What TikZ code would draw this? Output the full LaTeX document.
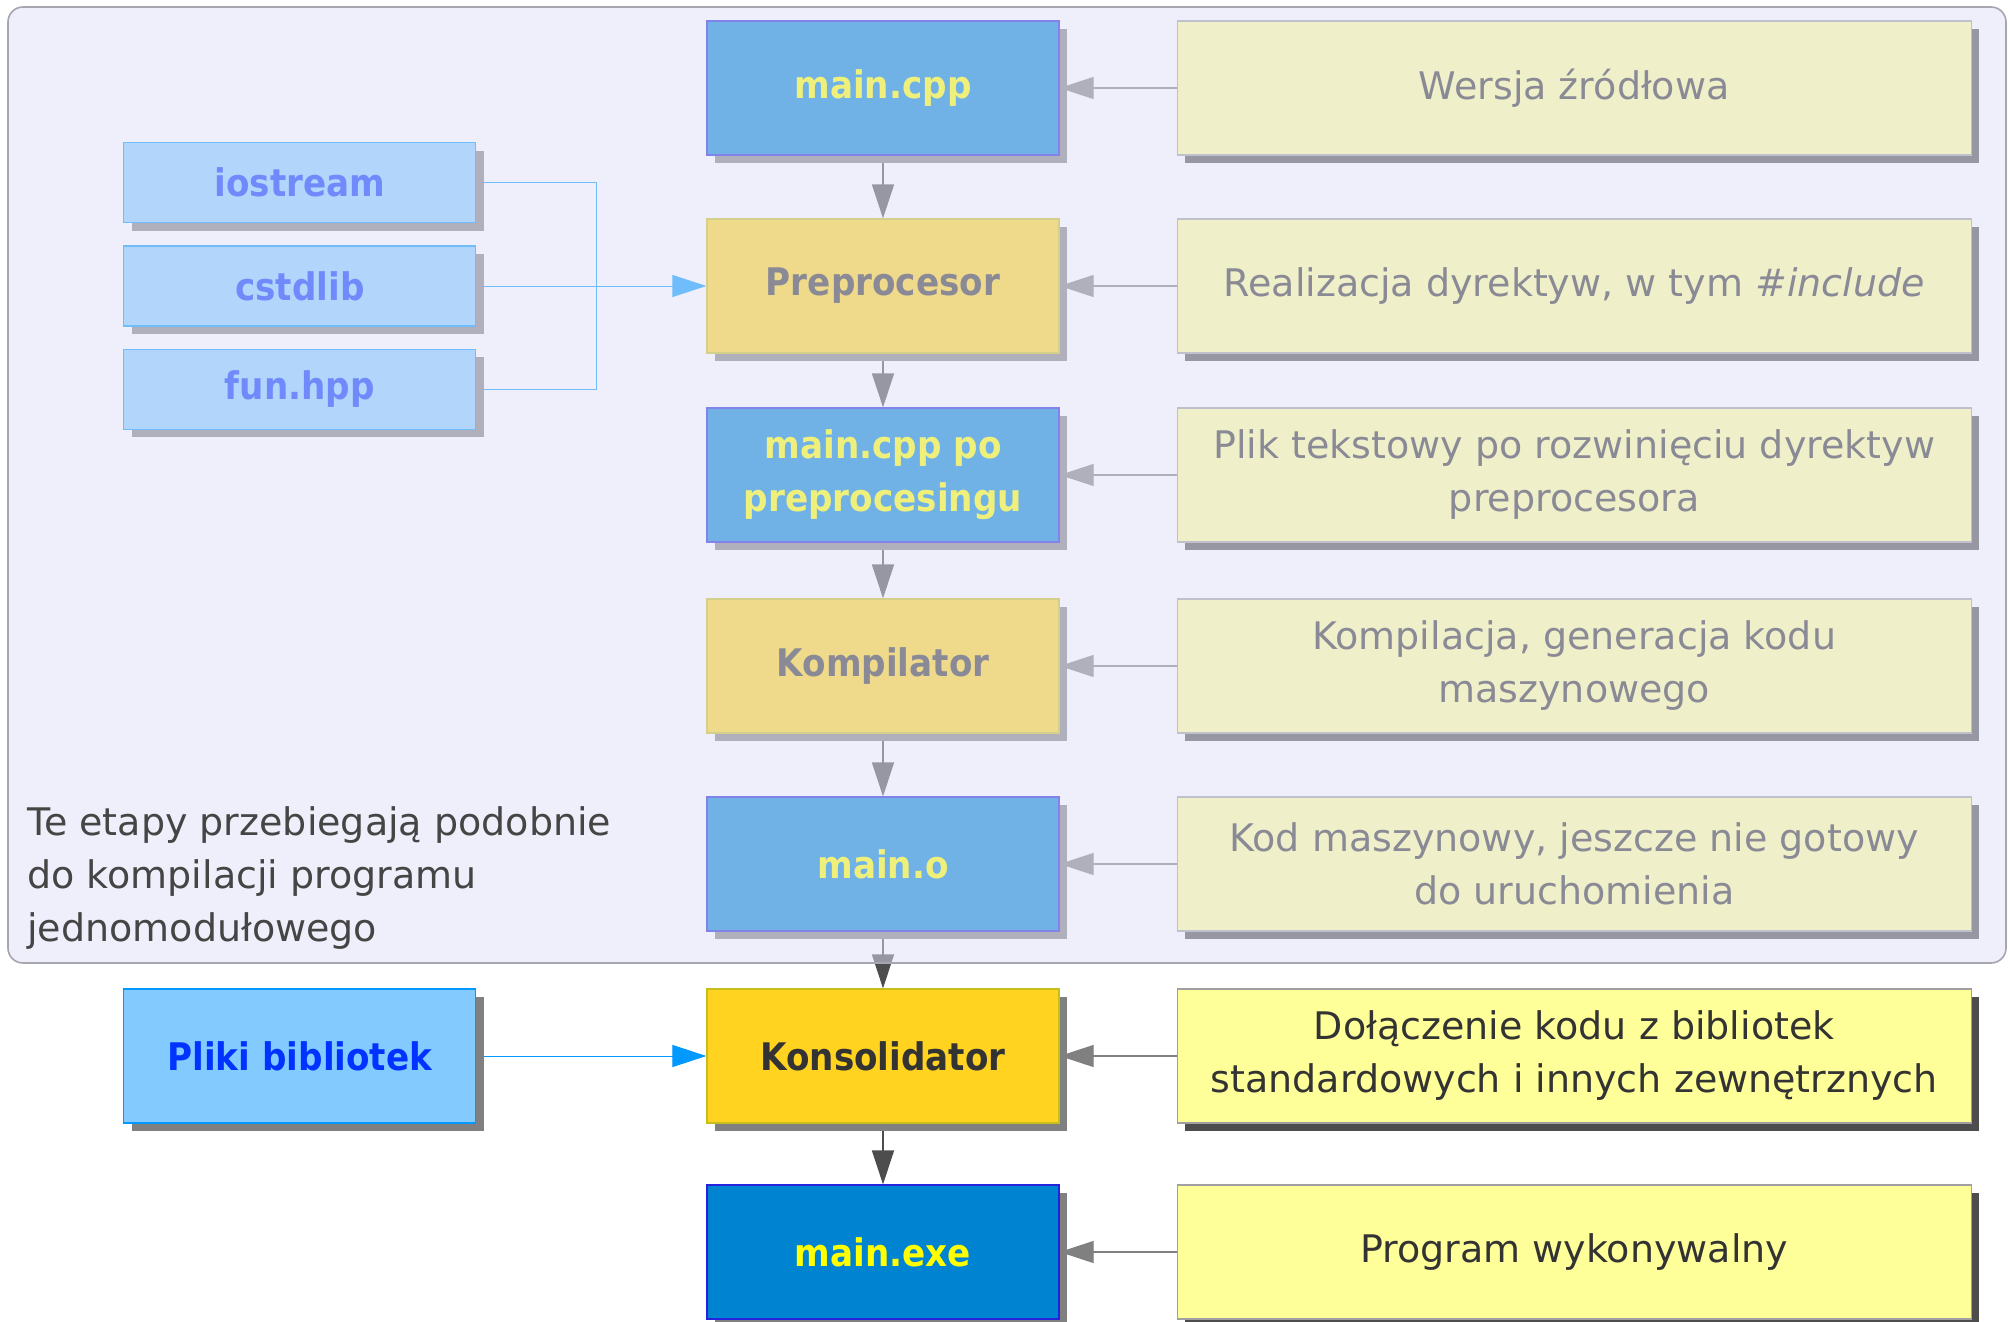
\documentclass[tikz,border=0pt]{standalone}
\usepackage{fontspec}
\setmainfont{DejaVu Sans}
\newfontfamily\lblfont[FakeStretch=0.9]{DejaVu Sans}
\usepackage{xcolor}
\usepackage{tikz}
\usetikzlibrary{positioning,arrows.meta,backgrounds}

\definecolor{fileblue}{HTML}{0084D1}
\definecolor{fileedge}{HTML}{2323DC}
\definecolor{fileyel}{HTML}{FFFF00}
\definecolor{stepyel}{HTML}{FFD320}
\definecolor{stepedge}{HTML}{C8BE1A}
\definecolor{descyel}{HTML}{FFFF99}
\definecolor{descedge}{HTML}{A0A0A0}
\definecolor{libblue}{HTML}{83CAFF}
\definecolor{libedge}{HTML}{0099FF}
\definecolor{libtxt}{HTML}{0033FF}
\definecolor{darktxt}{HTML}{333333}
\definecolor{shadowgray}{HTML}{808080}
\definecolor{shadowdark}{HTML}{4D4D4D}
\definecolor{arrgray}{HTML}{4D4D4D}
\definecolor{ovl}{RGB}{225,225,249}
\definecolor{paneledge}{HTML}{A6A6B0}
\definecolor{notetxt}{HTML}{454545}
\newcommand{\lblf}{\lblfont\bfseries\fontsize{19pt}{26.5pt}\selectfont}
\newcommand{\dscf}{\fontsize{19pt}{26.5pt}\selectfont}

\begin{document}
\begin{tikzpicture}[
  x=0.5pt, y=-0.5pt,
  node distance=29pt and 58.5pt,
  shd/.style={preaction={fill=#1, transform canvas={shift={(4pt,-4pt)}}}},
  box/.style={draw, line width=0.6pt, align=center, minimum width=176pt, minimum height=67pt, inner sep=3pt},
  fl/.style={box, fill=fileblue, draw=fileedge, text=fileyel, font=\lblf, shd=shadowgray},
  st/.style={box, fill=stepyel, draw=stepedge, text=darktxt, font=\lblf, shd=shadowgray},
  ds/.style={box, minimum width=397pt, fill=descyel, draw=descedge, text=darktxt, font=\dscf, shd=shadowdark},
  lib/.style={box, minimum height=40pt, fill=libblue, draw=libedge, text=libtxt, font=\lblf, shd=shadowgray},
  arr/.style={-{Triangle[length=17pt,width=11pt]}, line width=0.8pt, draw=arrgray},
  darr/.style={-{Triangle[length=17pt,width=11pt]}, line width=0.6pt, draw=shadowgray},
  libln/.style={line width=0.5pt, draw=libedge},
  libarr/.style={libln, -{Triangle[length=17pt,width=11pt]}},
  panel/.style={rounded corners=7.5pt, draw=paneledge, line width=0.8pt, fill=ovl, fill opacity=0.5},
  note/.style={align=left, inner sep=0pt, text=notetxt, font=\dscf}
]
\useasboundingbox (0,0) rectangle (2008,1322);

% main column
\node[fl] (src) at (883,88) {main.cpp};
\node[st, below=31.4pt of src] (pre) {Preprocesor};
\node[fl, below=26.9pt of pre] (srcp) {main.cpp po\\preprocesingu};
\node[st, below=27.9pt of srcp] (comp) {Kompilator};
\node[fl, below=31.4pt of comp] (obj) {main.o};
\node[st, below=28.4pt of obj] (lnk) {Konsolidator};
\node[fl, below=30.4pt of lnk] (exe) {main.exe};

% descriptions
\node[ds, right=of src] (dsrc) {Wersja źródłowa};
\node[ds, right=of pre] (dpre) {Realizacja dyrektyw, w tym \textit{\#include}};
\node[ds, right=of srcp] (dsrcp) {Plik tekstowy po rozwinięciu dyrektyw\\preprocesora};
\node[ds, right=of comp] (dcomp) {Kompilacja, generacja kodu\\maszynowego};
\node[ds, right=of obj] (dobj) {Kod maszynowy, jeszcze nie gotowy\\do uruchomienia};
\node[ds, right=of lnk] (dlnk) {Dołączenie kodu z bibliotek\\standardowych i innych zewnętrznych};
\node[ds, right=of exe] (dexe) {Program wykonywalny};

% headers and libraries
\node[lib, left=115pt of pre] (cst) {cstdlib};
\node[lib, above=11pt of cst] (ios) {iostream};
\node[lib, below=11pt of cst] (fun) {fun.hpp};
\node[lib, minimum height=67pt, left=115pt of lnk] (plk) {Pliki bibliotek};

\begin{scope}[on background layer]
\fill[white] (0,0) rectangle (2008,1322);
\draw[arr] (src)--(pre); \draw[arr] (pre)--(srcp); \draw[arr] (srcp)--(comp);
\draw[arr] (comp)--(obj); \draw[arr] (obj)--(lnk); \draw[arr] (lnk)--(exe);
\draw[darr] (dsrc)--(src); \draw[darr] (dpre)--(pre); \draw[darr] (dsrcp)--(srcp);
\draw[darr] (dcomp)--(comp); \draw[darr] (dobj)--(obj); \draw[darr] (dlnk)--(lnk);
\draw[darr] (dexe)--(exe);
\draw[libln] (ios.east) -- ++(120,0) |- (fun.east);
\draw[libarr] (cst)--(pre);
\draw[libarr] (plk)--(lnk);
\end{scope}

% single-module stages
\draw[panel] (8,7) rectangle (2006,963);
\node[note, anchor=west] (nt) at (27,878) {Te etapy przebiegają podobnie\\do kompilacji programu\\jednomodułowego};
\end{tikzpicture}
\end{document}
